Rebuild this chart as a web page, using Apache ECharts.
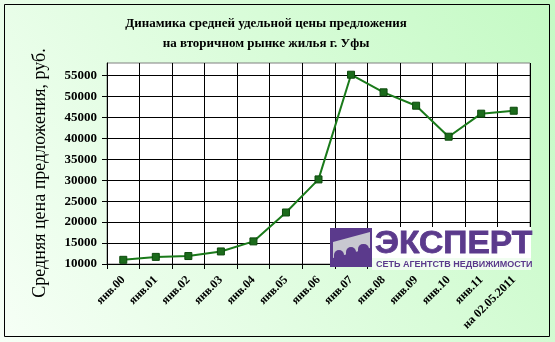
<!DOCTYPE html>
<html>
<head>
<meta charset="utf-8">
<script src="https://cdn.jsdelivr.net/npm/echarts@6/dist/echarts.min.js"></script>
<style>
html,body{margin:0;padding:0;}
#main{width:555px;height:342px;}
</style>
</head>
<body>
<div id="main"></div>
<script>
var categories = ['янв.00','янв.01','янв.02','янв.03','янв.04','янв.05','янв.06','янв.07','янв.08','янв.09','янв.10','янв.11','на 02.05.2011'];
var prices = [11000, 11700, 11900, 13000, 15400, 22300, 30200, 55200, 51000, 47800, 40400, 45900, 46600];
var yTicks = [10000, 15000, 20000, 25000, 30000, 35000, 40000, 45000, 50000, 55000];
var titleLines = ['Динамика средней удельной цены предложения', 'на вторичном рынке жилья г. Уфы'];
var yTitle = 'Средняя цена предложения, руб.';
var logoName = 'ЭКСПЕРТ';
var logoSub = 'СЕТЬ АГЕНТСТВ НЕДВИЖИМОСТИ';

var chart = echarts.init(document.getElementById('main'), null, {renderer: 'canvas'});
var serif = '"Liberation Serif", "DejaVu Serif", serif';
var purple = '#5b3a8c';

chart.setOption({
  animation: false,
  backgroundColor: {
    type: 'linear', x: 0, y: 1, x2: 1, y2: 0,
    colorStops: [{offset: 0, color: '#f6fff6'}, {offset: 1, color: '#c4fac4'}]
  },
  title: {
    text: titleLines.join('\n'),
    left: 261, top: 9, textAlign: 'center',
    textStyle: {fontFamily: serif, fontWeight: 'bold', fontSize: 13, color: '#000', lineHeight: 20}
  },
  grid: {
    left: 107, right: 25, top: 63, bottom: 78,
    show: true, backgroundColor: '#ffffff', borderColor: '#808080', borderWidth: 1
  },
  xAxis: {
    type: 'category',
    data: categories,
    boundaryGap: true,
    axisLine: {lineStyle: {color: '#000', width: 1}},
    axisTick: {show: true, length: 5, lineStyle: {color: '#000'}},
    splitLine: {show: true, lineStyle: {color: '#000', width: 1}},
    axisLabel: {
      interval: 0, rotate: 45, margin: 14,
      fontFamily: serif, fontWeight: 'bold', fontSize: 12, color: '#000'
    }
  },
  yAxis: {
    type: 'value',
    min: 10000, max: 58000, interval: 5000,
    axisLine: {show: true, lineStyle: {color: '#000', width: 1}},
    axisTick: {show: true, length: 5, lineStyle: {color: '#000'}, customValues: yTicks},
    splitLine: {show: true, lineStyle: {color: '#000', width: 1}},
    axisLabel: {
      customValues: yTicks,
      margin: 10,
      formatter: function (v) { return String(v); },
      fontFamily: serif, fontWeight: 'bold', fontSize: 13, color: '#000'
    }
  },
  series: [{
    type: 'line',
    data: prices,
    symbol: 'rect',
    symbolSize: 7,
    lineStyle: {color: '#1a7a1a', width: 2},
    itemStyle: {color: '#1b6b1b', borderColor: '#0d4a0d', borderWidth: 1},
    z: 3
  }],
  graphic: [
    {type: 'text', x: 40, y: 173, rotation: Math.PI / 2,
     style: {text: yTitle, fill: '#000', font: '18px "Liberation Serif", "DejaVu Serif", serif', textAlign: 'center', textVerticalAlign: 'middle'}, z: 60},
    {type: 'rect', shape: {x: 4.5, y: 4.5, width: 545, height: 332}, style: {fill: 'none', stroke: '#000', lineWidth: 1}, z: 100},
    {type: 'rect', shape: {x: 372, y: 227, width: 159, height: 31}, style: {fill: '#ffffff'}, z: 50},
    {type: 'rect', shape: {x: 372, y: 258, width: 159, height: 12}, style: {fill: '#f0fdf0'}, z: 50},
    {type: 'rect', shape: {x: 330, y: 228, width: 42, height: 39}, style: {fill: purple}, z: 51},
    {type: 'polygon', shape: {points: [[333, 242], [370, 232], [370, 248], [333, 258]]}, style: {fill: '#c8c8d0'}, z: 52},
    {type: 'rect', shape: {x: 334, y: 250, width: 10, height: 16, r: [5, 5, 0, 0]}, style: {fill: purple}, z: 53},
    {type: 'rect', shape: {x: 346, y: 247, width: 10, height: 19, r: [5, 5, 0, 0]}, style: {fill: purple}, z: 53},
    {type: 'rect', shape: {x: 358, y: 244, width: 11, height: 22, r: [5, 5, 0, 0]}, style: {fill: purple}, z: 53},
    {type: 'text', x: 375, y: 228, scaleX: 1.05, style: {text: logoName, fill: purple, stroke: purple, lineWidth: 0.8, font: 'bold 32px "Liberation Sans", Arial, sans-serif', textVerticalAlign: 'top'}, z: 54},
    {type: 'text', x: 376, y: 260, style: {text: logoSub, fill: purple, font: 'bold 9px "Liberation Sans", Arial, sans-serif', textVerticalAlign: 'top'}, z: 54}
  ]
});
</script>
</body>
</html>
